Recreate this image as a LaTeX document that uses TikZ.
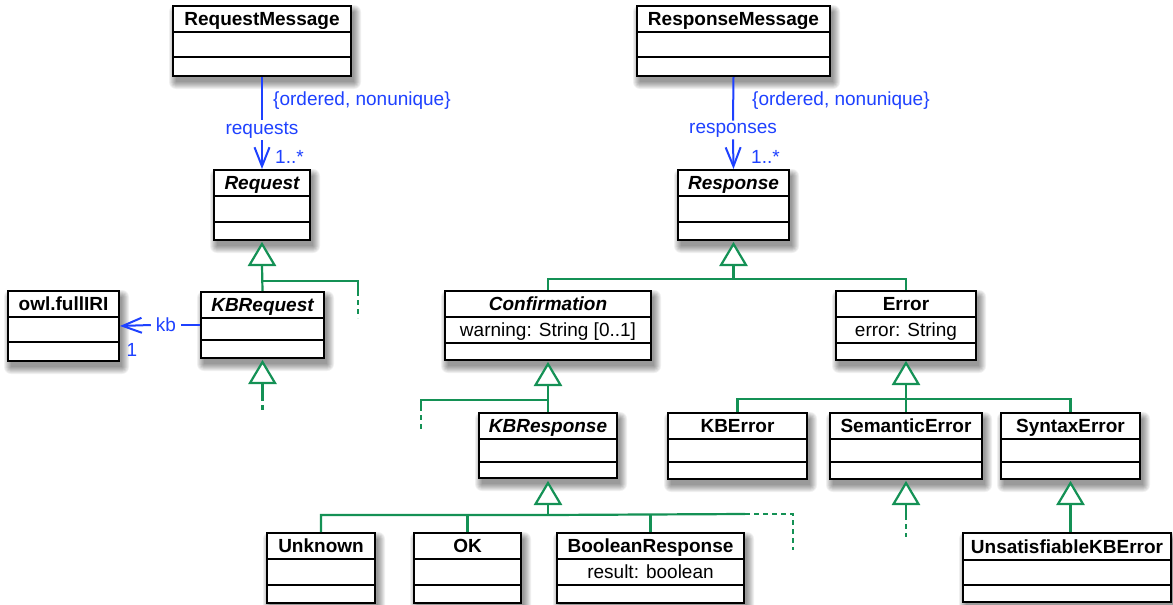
\documentclass[tikz,border=0pt]{standalone}
\usepackage{fontspec}
\setmainfont{Liberation Sans}
\usetikzlibrary{arrows.meta,fit,calc}
\definecolor{umlgreen}{RGB}{20,145,85}
\definecolor{umlblue}{RGB}{30,65,255}
\newcommand\umlbox[8]{%
  \foreach \s in {0,...,7} {\fill[black, opacity=0.06, rounded corners=\s pt]
     ({#2+3-\s},{#3+6-\s}) rectangle ({#4+3+\s},{#7+6+\s});}
  \node[classbox, fit={(#2,#3) (#4,#7)}] (#1) {};
  \draw[divider] (#2,#5) -- (#4,#5);
  \draw[divider] (#2,#6) -- (#4,#6);
  \node[titletext, anchor=base] at ({(#2+#4)/2},{#5-6.5}) {#8};
}
\newcommand\umlattr[3]{%
  \node[attrtext, anchor=base] at (#1,#2) {#3};
}
\newcommand\gentri[1]{%
  \draw[genline, fill=white] (#1) -- ++(12.5,21) -- ++(-25,0) -- cycle;
}
\begin{document}
\begin{tikzpicture}[x=1pt,y=-1pt,
  classbox/.style={draw=black, line width=2pt, fill=white, inner sep=0pt},
  divider/.style={draw=black, line width=2pt},
  titletext/.style={font=\fontsize{19}{21}\selectfont\bfseries, inner sep=0pt},
  attrtext/.style={font=\fontsize{19}{21}\selectfont, inner sep=0pt},
  lbl/.style={font=\fontsize{19}{21}\selectfont, text=umlblue, inner sep=2pt},
  assoc/.style={draw=umlblue, line width=2pt},
  navarrow/.style={assoc, -{Straight Barb[length=19pt, width=15pt]}},
  genline/.style={draw=umlgreen, line width=2.2pt},
  gendash/.style={genline, dash pattern=on 5pt off 4pt},
]
\useasboundingbox (0,0) rectangle (1173,605);
\fill[white] (0,0) rectangle (1173,605);

% ---- classes ----
\umlbox{RM}{173}{6}{351}{32}{57}{76}{RequestMessage}
\umlbox{Req}{214}{170}{310}{196}{222}{240}{\itshape Request}
\umlbox{owl}{8}{291}{119}{317}{342}{361}{owl.fullIRI}
\umlbox{KBReq}{201}{292}{324}{318}{340}{358}{\itshape KBRequest}
\umlbox{RsM}{637}{6}{830}{32}{57}{76}{ResponseMessage}
\umlbox{Rsp}{678}{170}{789}{196}{222}{240}{\itshape Response}
\umlbox{Conf}{445}{291}{651}{317}{343}{360}{\itshape Confirmation}
\umlattr{548}{336.5}{warning: String [0..1]}
\umlbox{Err}{836}{291}{976}{317}{343}{360}{Error}
\umlattr{906}{336.5}{error: String}
\umlbox{KBRsp}{479}{413}{617}{439}{462}{478}{\itshape KBResponse}
\umlbox{KBErr}{668}{413}{807}{439}{462}{479}{KBError}
\umlbox{SemErr}{830}{413}{982}{439}{462}{479}{SemanticError}
\umlbox{SynErr}{1001}{413}{1140}{439}{462}{479}{SyntaxError}
\umlbox{Unk}{267}{533}{375}{559}{585}{603}{Unknown}
\umlbox{OK}{414}{533}{521}{559}{585}{603}{OK}
\umlbox{BoolR}{557}{533}{744}{559}{585}{603}{BooleanResponse}
\umlattr{650.5}{578.5}{result: boolean}
\umlbox{UKBE}{963}{533}{1171}{560}{585}{602}{UnsatisfiableKBError}

% ---- associations ----
\node[lbl] (reqlab) at (262,130) {requests};
\draw[assoc] (RM.south) -- (reqlab.north);
\draw[navarrow] (reqlab.south) -- (Req.north);
\node[lbl, anchor=west, inner sep=0pt] (reqc) at (273,101) {\{ordered, nonunique\}};
\node[lbl, anchor=west, inner sep=0pt] (reqm) at (275,157) {1..*};

\node[lbl] (rsplab) at (733,130) {responses};
\draw[assoc] (RsM.south) -- (rsplab.north);
\draw[navarrow] (rsplab.south) -- (Rsp.north);
\node[lbl, anchor=west, inner sep=0pt] (rspc) at (752,101) {\{ordered, nonunique\}};
\node[lbl, anchor=west, inner sep=0pt] (rspm) at (751,157) {1..*};

\node[lbl, inner xsep=5pt] (kblab) at (166,325) {kb};
\draw[assoc] (KBReq.west) -- (kblab.east);
\draw[navarrow] (kblab.west) -- (owl.east);
\node[lbl, inner sep=0pt] (kbm) at (132,350) {1};

% ---- generalizations ----
% Request <- KBRequest
\coordinate (tReq) at ($(Req.south)+(0,3)$);
\coordinate (tReqB) at ($(tReq)+(0,21)$);
\coordinate (bReq) at ($(tReq)+(0,37)$);
\coordinate (bReqR) at ($(bReq)+(96,0)$);
\coordinate (bReqRs) at ($(bReqR)+(0,10)$);
\coordinate (bReqRe) at ($(bReqR)+(0,37)$);
\draw[genline] (tReqB) -- (KBReq.north);
\draw[genline] (bReq) -- (bReqR) -- (bReqRs);
\draw[gendash] (bReqRs) -- (bReqRe);
\gentri{tReq}

% KBRequest <- ...
\coordinate (tKBReq) at ($(KBReq.south)+(0,3)$);
\coordinate (tKBReqB) at ($(tKBReq)+(0,21)$);
\coordinate (tKBReqS) at ($(tKBReqB)+(0,13)$);
\coordinate (tKBReqE) at ($(tKBReqB)+(0,30)$);
\draw[genline] (tKBReqB) -- (tKBReqS);
\draw[gendash] (tKBReqS) -- (tKBReqE);
\gentri{tKBReq}

% Response <- Confirmation, Error
\coordinate (tRsp) at ($(Rsp.south)+(0,3)$);
\coordinate (tRspB) at ($(tRsp)+(0,21)$);
\coordinate (bRsp) at ($(tRsp)+(0,35)$);
\draw[genline] (tRspB) -- (bRsp);
\draw[genline] (Conf.north) |- (bRsp) -| (Err.north);
\gentri{tRsp}

% Confirmation <- KBResponse
\coordinate (tConf) at ($(Conf.south)+(0,3)$);
\coordinate (tConfB) at ($(tConf)+(0,20)$);
\coordinate (bConf) at ($(tConf)+(0,36)$);
\coordinate (bConfL) at ($(bConf)+(-127,0)$);
\coordinate (bConfLs) at ($(bConfL)+(0,6)$);
\coordinate (bConfLe) at ($(bConfL)+(0,29)$);
\draw[genline] (tConfB) -- (KBRsp.north);
\draw[genline] (bConf) -- (bConfL) -- (bConfLs);
\draw[gendash] (bConfLs) -- (bConfLe);
\gentri{tConf}

% Error <- KBError, SemanticError, SyntaxError
\coordinate (tErr) at ($(Err.south)+(0,2)$);
\coordinate (tErrB) at ($(tErr)+(0,21)$);
\coordinate (bErr) at ($(tErr)+(0,36)$);
\draw[genline] (tErrB) -- (SemErr.north);
\draw[genline] (KBErr.north) |- (bErr) -| (SynErr.north);
\gentri{tErr}

% SemanticError <- ...
\coordinate (tSem) at ($(SemErr.south)+(0,3)$);
\coordinate (tSemB) at ($(tSem)+(0,21)$);
\coordinate (tSemS) at ($(tSemB)+(0,11)$);
\coordinate (tSemE) at ($(tSemB)+(0,33)$);
\draw[genline] (tSemB) -- (tSemS);
\draw[gendash] (tSemS) -- (tSemE);
\gentri{tSem}

% SyntaxError <- UnsatisfiableKBError
\coordinate (tSyn) at ($(SynErr.south)+(0,3)$);
\coordinate (tSynB) at ($(tSyn)+(0,21)$);
\draw[genline] (tSynB) -- (tSynB |- UKBE.north);
\gentri{tSyn}

% KBResponse <- Unknown, OK, BooleanResponse
\coordinate (tKBR) at ($(KBRsp.south)+(0,4)$);
\coordinate (tKBRB) at ($(tKBR)+(0,21)$);
\coordinate (bKBR) at ($(tKBR)+(0,32)$);
\coordinate (bKBRr) at (745,514);
\coordinate (bKBRd) at (793,514);
\coordinate (bKBRe) at (793,550);
\draw[genline] (tKBRB) -- (bKBR);
\draw[genline] (Unk.north) |- (bKBR) -- (bKBRr);
\draw[genline] (OK.north) -- (OK.north |- bKBR);
\draw[genline] (BoolR.north) -- (BoolR.north |- bKBR);
\draw[gendash] (bKBRr) -- (bKBRd) -- (bKBRe);
\gentri{tKBR}
\end{tikzpicture}
\end{document}
